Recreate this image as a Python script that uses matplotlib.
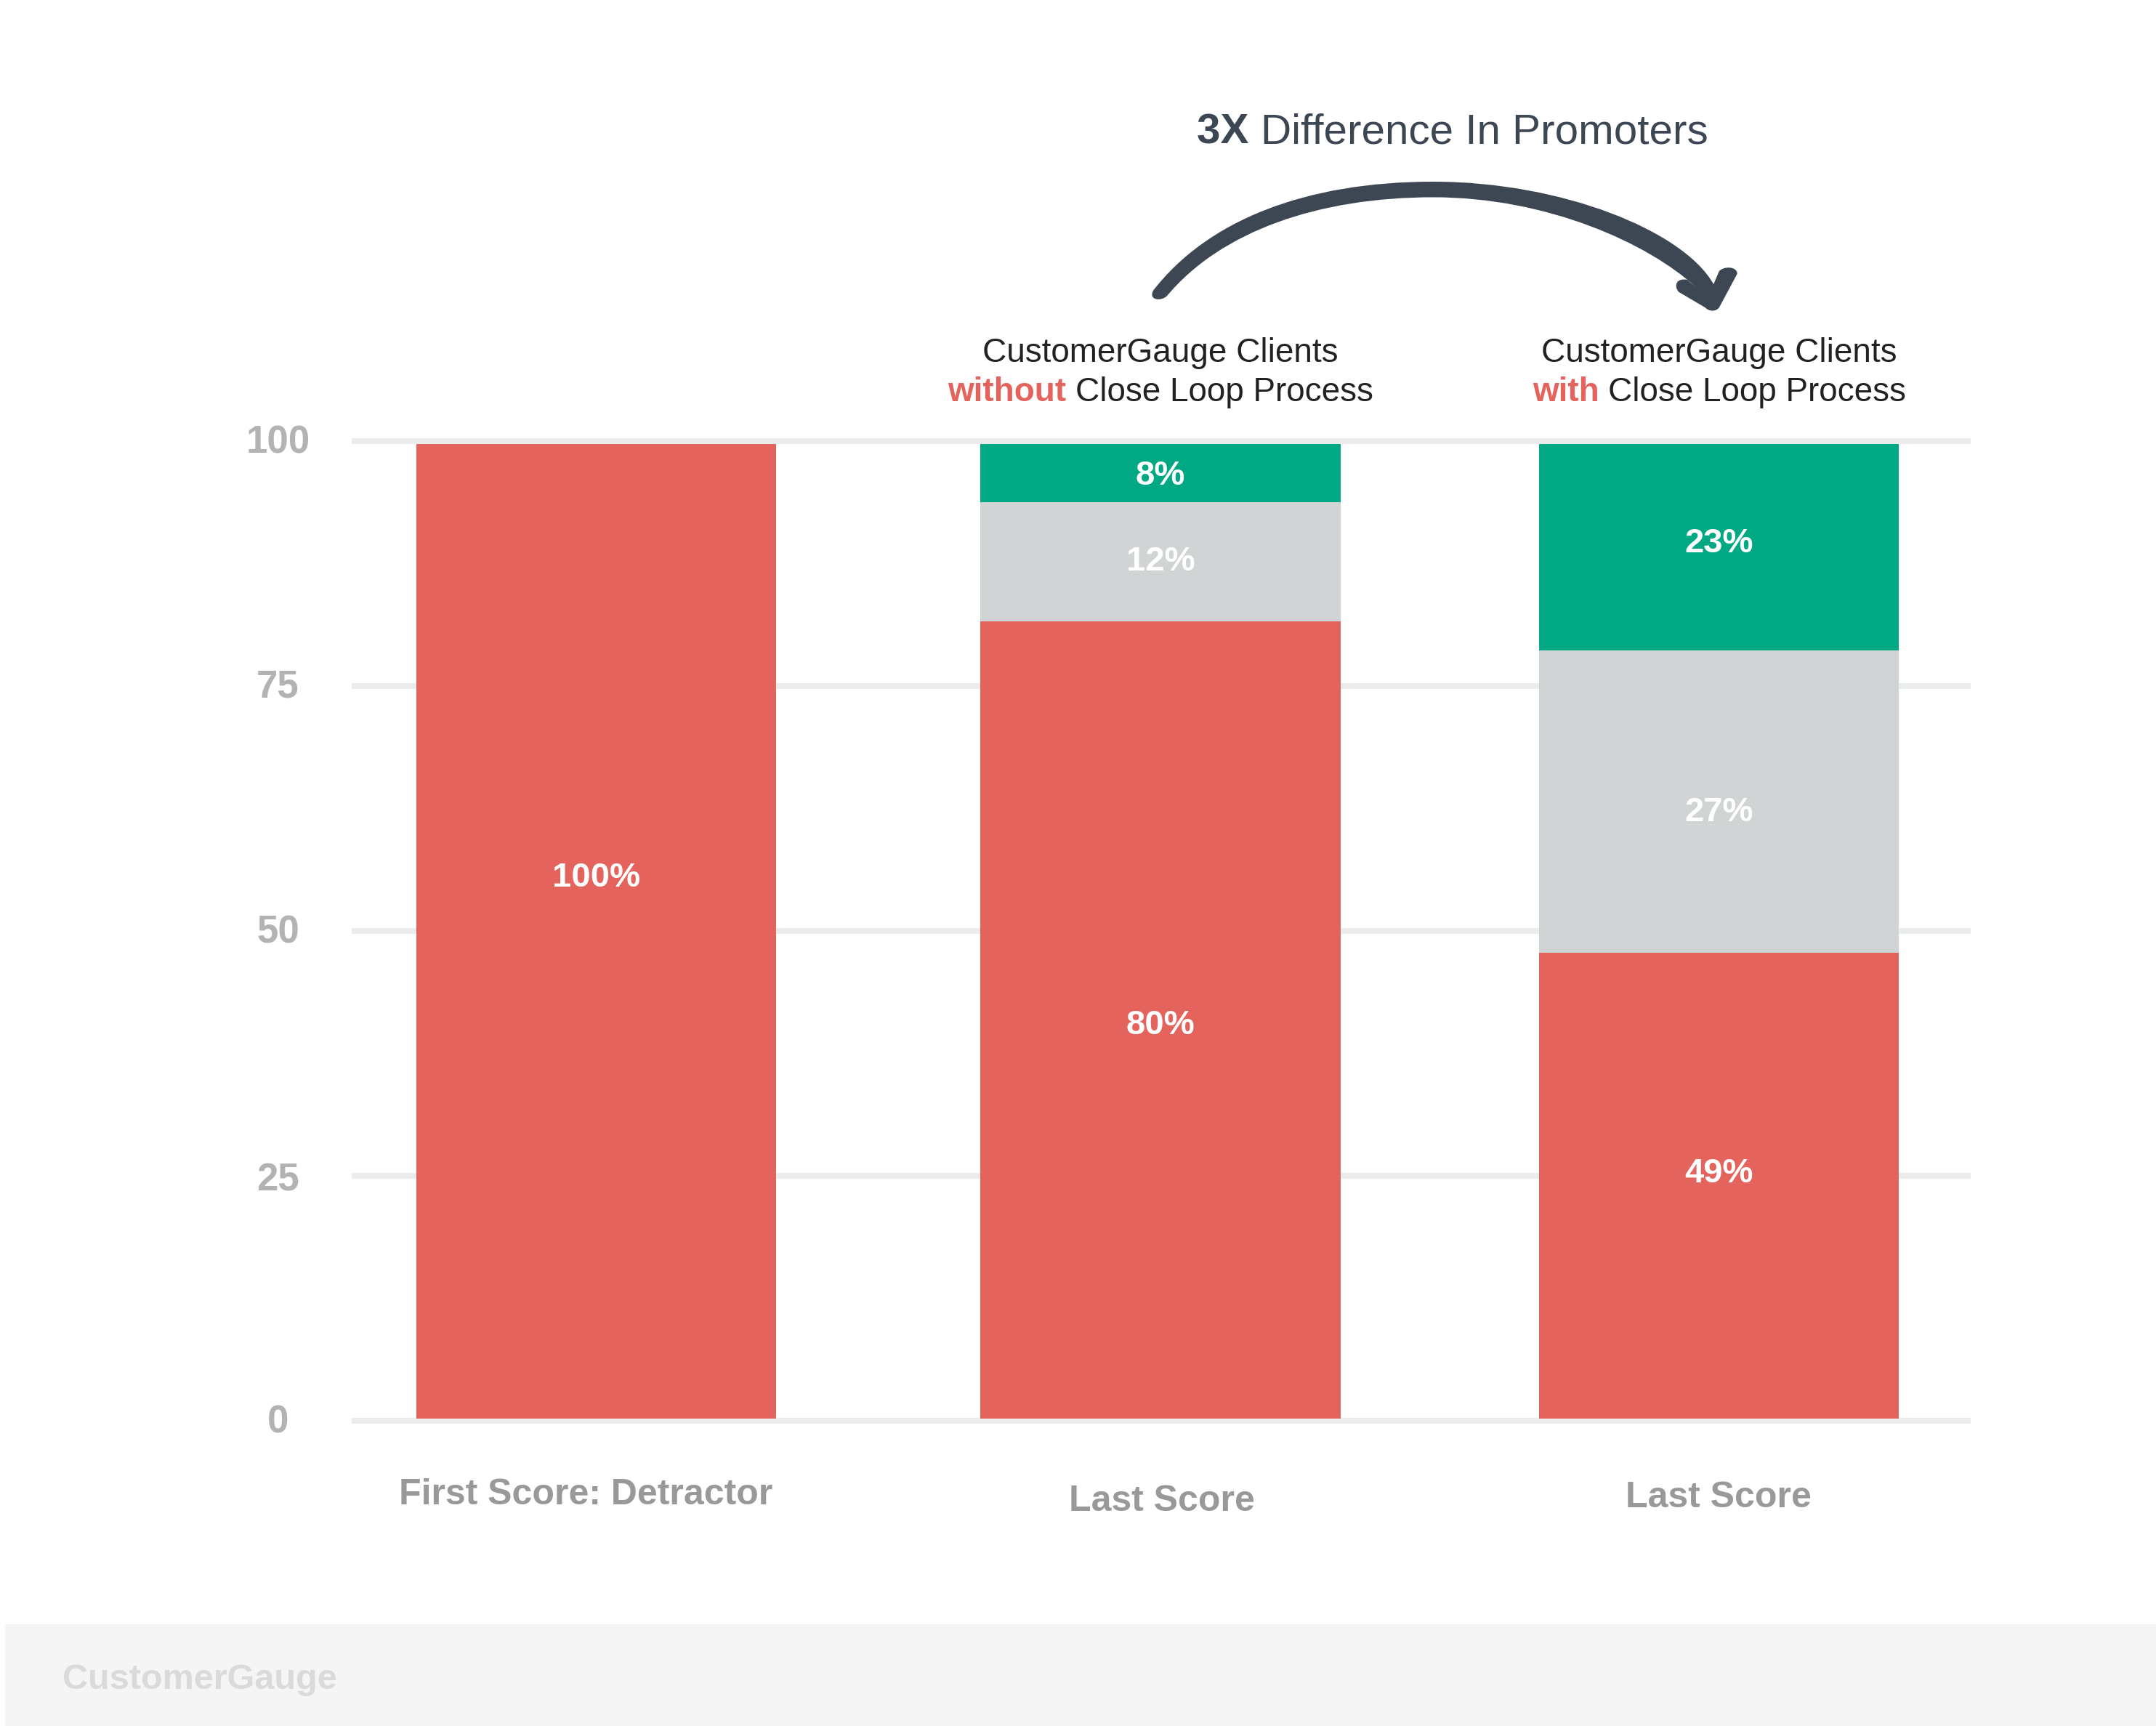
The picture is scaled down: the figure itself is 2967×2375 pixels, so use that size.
#!/usr/bin/env python
"""
Detractor recovery with and without a close loop process, stacked bars
"""

import matplotlib.pyplot as plt
from matplotlib.patches import PathPatch, Rectangle
from matplotlib.path import Path
from matplotlib.transforms import ScaledTranslation

WIDTH, HEIGHT = 2967, 2375
DPI = 100

# chart values
categories = ['First Score: Detractor', 'Last Score', 'Last Score']
detractors = [99.5, 81.4, 47.6]
passives = [0.0, 12.2, 30.8]
promoters = [0.0, 5.9, 21.1]
detractor_labels = ['100%', '80%', '49%']
passive_labels = ['', '12%', '27%']
promoter_labels = ['', '8%', '23%']
yticks = [0, 25, 50, 75, 100]

# colors
RED = '#e4635c'
GREY = '#d1d4d4'
GREEN = '#00a984'
DARK = '#3d4754'
INK = '#222222'

plt.rcParams['font.family'] = ['Liberation Sans', 'DejaVu Sans']


def fig_xy(x, y):
    # pixels measured from the top left of the image to figure fraction
    return x / WIDTH, 1 - y / HEIGHT


def px_text(fig, x, y, text, **kwargs):
    fx, fy = fig_xy(x, y)
    return fig.text(fx, fy, text, **kwargs)


def mixed_line(fig, xcenter, y, parts, size):
    # one centred line of text made of (string, weight, color) runs
    renderer = fig.canvas.get_renderer()
    runs = []
    total = 0
    for string, weight, color in parts:
        t = px_text(fig, 0, y, string, fontsize=size, fontweight=weight,
                    color=color, ha='left', va='baseline')
        w = t.get_window_extent(renderer).width
        runs.append((t, w))
        total += w
    x = xcenter - total / 2
    for t, w in runs:
        t.set_x(x / WIDTH)
        x += w


def draw_arrow(fig):
    # tapered hand drawn arrow, outline in image pixels
    def p(x, y):
        return fig_xy(1250 + x / 1.045, 100 + y / 2.8)

    M, L, C = Path.MOVETO, Path.LINETO, Path.CURVE4
    outline = [
        (M, (352, 840)),
        (C, (430, 570)), (C, (570, 420)), (C, (755, 420)),
        (C, (940, 420)), (C, (1115, 610)), (C, (1158, 815)),
        (L, (1166, 765)),
        (C, (1172, 745)), (C, (1192, 745)), (C, (1192, 775)),
        (L, (1166, 905)),
        (C, (1162, 920)), (C, (1152, 922)), (C, (1146, 905)),
        (L, (1108, 845)),
        (C, (1100, 820)), (C, (1105, 790)), (C, (1120, 798)),
        (L, (1132, 825)),
        (C, (1065, 660)), (C, (920, 480)), (C, (755, 480)),
        (C, (590, 480)), (C, (450, 610)), (C, (372, 860)),
        (C, (365, 880)), (C, (345, 880)), (C, (352, 840)),
    ]
    codes = [c for c, _ in outline]
    verts = [p(*xy) for _, xy in outline]
    fig.add_artist(PathPatch(Path(verts, codes), facecolor=DARK, edgecolor='none',
                             transform=fig.transFigure))


def main():
    fig = plt.figure(figsize=(WIDTH / DPI, HEIGHT / DPI), dpi=DPI, facecolor='white')

    # axes span the gridlines: 100 at y=607 and 0 at y=1955
    left, top = fig_xy(484, 607)
    right, bottom = fig_xy(2712, 1955)
    ax = fig.add_axes([left, bottom, right - left, top - bottom])
    ax.set_xlim(-0.4355, 2.448)
    ax.set_ylim(0, 100)
    for spine in ax.spines.values():
        spine.set_visible(False)

    for tick in yticks:
        ax.axhline(tick, color='#ebecec', lw=5.8, zorder=1, clip_on=False,
                   solid_capstyle='butt')

    positions = [0, 1.005, 2]
    base = 0.2
    bar_width = 0.641
    stack = [base] * len(positions)
    # label offsets from the middle of each segment, the original is hand placed
    for values, color, labels, nudges in [
            (detractors, RED, detractor_labels, [5.5, -0.55, 1.25]),
            (passives, GREY, passive_labels, [0, 0, -1.1]),
            (promoters, GREEN, promoter_labels, [0, -0.3, 0.4])]:
        ax.bar(positions, values, bar_width, bottom=stack, color=color, zorder=2)
        for x, b, v, label, nudge in zip(positions, stack, values, labels, nudges):
            if label:
                ax.text(x, b + v / 2 + nudge, label, color='white', fontsize=34,
                        fontweight='bold', ha='center', va='center', zorder=3)
        stack = [s + v for s, v in zip(stack, values)]

    ax.set_xticks([])
    ax.set_yticks(yticks)
    ax.set_yticklabels([str(t) for t in yticks], fontsize=38, fontweight='bold',
                       color='#b3b3b3', ha='center')
    ax.tick_params(axis='y', length=0, pad=73)
    # labels sit a few pixels off their gridlines, by a different amount each
    for label, lift_px in zip(ax.get_yticklabels(), [3, -1, 3, 4, 3]):
        lift = ScaledTranslation(0, lift_px / DPI, fig.dpi_scale_trans)
        label.set_transform(label.get_transform() + lift)

    # category names, slightly uneven in the original
    for x, y, name in zip([806, 1599, 2365], [2057, 2066, 2061], categories):
        px_text(fig, x, y, name, fontsize=36, fontweight='bold', color='#999999',
                ha='center', va='center')

    # headings over the two last bars
    for xcenter, word in [(1597, 'without'), (2366, 'with')]:
        px_text(fig, xcenter, 498, 'CustomerGauge Clients', fontsize=33, color=INK,
                ha='center', va='baseline')
        mixed_line(fig, xcenter, 552,
                   [(word + ' ', 'bold', RED), ('Close Loop Process', 'normal', INK)], 33)

    mixed_line(fig, 1999, 198,
               [('3X ', 'bold', DARK), ('Difference In Promoters', 'normal', DARK)], 42)
    draw_arrow(fig)

    # footer band with the logotype
    fx, fy = fig_xy(7, HEIGHT)
    fig.add_artist(Rectangle((fx, fy), 1 - fx, (HEIGHT - 2235) / HEIGHT, facecolor='#f5f5f5',
                             edgecolor='none', transform=fig.transFigure, zorder=-1))
    px_text(fig, 86, 2324, 'CustomerGauge', fontsize=35, fontweight='bold', color='#d9dbdb',
            ha='left', va='baseline')

    fig.savefig('out.png', dpi=DPI, facecolor='white')


if __name__ == "__main__":
    main()
